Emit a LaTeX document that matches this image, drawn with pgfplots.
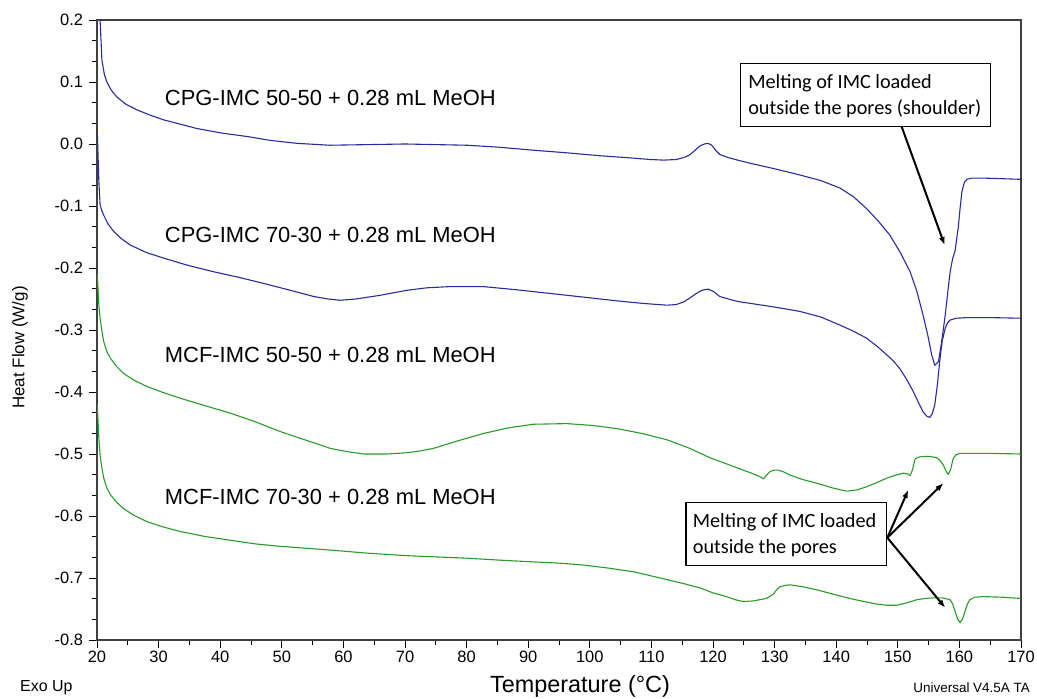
\documentclass[border=0pt]{standalone}
\usepackage{fontspec}
\setmainfont{Liberation Sans}
\newfontfamily\calibri{Carlito}
\usepackage{pgfplots}
\pgfplotsset{compat=1.18}
\usetikzlibrary{arrows.meta}
\definecolor{cblue}{RGB}{42,42,158}
\definecolor{cgreen}{RGB}{40,155,40}
\begin{document}
\begin{tikzpicture}
\path[use as bounding box] (-97bp,-59bp) rectangle (940bp,640bp);
\begin{axis}[
 at={(0,0)}, anchor=south west,
 scale only axis, width=924bp, height=620bp,
 xmin=20, xmax=170, ymin=-0.8, ymax=0.2,
 xtick={20,30,40,50,60,70,80,90,100,110,120,130,140,150,160,170},
 ytick={-0.8,-0.7,-0.6,-0.5,-0.4,-0.3,-0.2,-0.1,0,0.1,0.2},
 minor x tick num=1, minor y tick num=2,
 tick align=outside, xtick pos=bottom, ytick pos=left,
 major tick length=8bp, minor tick length=5bp,
 tick style={black, line width=0.8bp},
 axis line style={draw=black!75, line width=1.2bp},
 ticklabel style={font=\fontsize{16.5}{19}\selectfont},
 /pgf/number format/assume math mode=true,
 y tick label style={xshift=-2.5bp, /pgf/number format/.cd, fixed, fixed zerofill, precision=1, /tikz/.cd},
 every axis plot/.append style={line width=1.1bp, line join=round},
]
% CPG-IMC 50-50
\addplot[cblue] coordinates {
(20.2,0.26)(20.5,0.20)(20.8,0.135)(21.2,0.112)(21.6,0.100)(22.3,0.087)(23.2,0.076)
(24.7,0.064)(26.5,0.055)(28.5,0.047)(30.8,0.039)(33.5,0.032)(36.2,0.025)(40,0.018)
(44.4,0.012)(48,0.006)(52.5,0.001)(57.8,-0.002)(64,-0.001)(70,0.000)(75,-0.001)
(80,-0.002)(85,-0.005)(90.8,-0.010)(96,-0.014)(101.7,-0.019)(106,-0.022)(109.8,-0.025)
(112,-0.026)(114.1,-0.025)(115.5,-0.021)(116.3,-0.017)(117.2,-0.009)(117.9,-0.003)
(118.6,0.000)(119.2,0.001)(119.8,-0.002)(120.5,-0.011)(121.1,-0.017)(122.5,-0.022)
(124,-0.026)(126,-0.031)(130,-0.040)(134.1,-0.050)(137.5,-0.059)(140.6,-0.071)
(142.8,-0.085)(144.9,-0.104)(146.8,-0.124)(148.7,-0.147)(150.4,-0.175)(152,-0.206)
(153.1,-0.238)(154.1,-0.276)(154.9,-0.31)(155.5,-0.340)(156.0,-0.357)(156.6,-0.351)
(157.1,-0.32)(157.7,-0.276)(158.1,-0.24)(158.5,-0.206)(158.9,-0.185)(159.3,-0.172)
(159.6,-0.150)(159.8,-0.136)(160.1,-0.105)(160.4,-0.077)(160.8,-0.062)(161.2,-0.057)
(162,-0.055)(163.9,-0.055)(167,-0.056)(170,-0.057)
};
% CPG-IMC 70-30
\addplot[cblue] coordinates {
(20.05,0.02)(20.3,-0.06)(20.5,-0.098)(20.8,-0.108)(21.1,-0.115)(21.8,-0.129)(22.7,-0.141)
(24,-0.153)(25.4,-0.163)(28,-0.175)(30.8,-0.184)(34.5,-0.195)(38.9,-0.206)(43,-0.215)
(47.1,-0.225)(51,-0.235)(55.2,-0.246)(57.5,-0.250)(59.5,-0.252)(62,-0.250)(66,-0.244)
(70.3,-0.236)(73.5,-0.232)(77.3,-0.230)(82.7,-0.230)(88,-0.235)(93.5,-0.241)(99,-0.247)
(104.4,-0.253)(108.5,-0.257)(112.5,-0.260)(114,-0.259)(115.2,-0.255)(116.3,-0.248)
(117.3,-0.241)(118.2,-0.236)(119.2,-0.234)(120.1,-0.238)(121.1,-0.246)(122.5,-0.250)
(124,-0.254)(126,-0.257)(130,-0.263)(134.1,-0.270)(137.5,-0.279)(140.6,-0.292)
(142.8,-0.302)(144.9,-0.313)(146.6,-0.326)(148.2,-0.340)(149.3,-0.350)(150.3,-0.362)
(151.4,-0.379)(152.5,-0.399)(153.4,-0.418)(154.1,-0.432)(154.7,-0.439)(155.2,-0.441)
(155.6,-0.435)(156.0,-0.421)(156.4,-0.39)(156.8,-0.351)(157.2,-0.318)(157.7,-0.297)
(158.1,-0.288)(158.5,-0.284)(159.5,-0.281)(161.2,-0.280)(165,-0.280)(170,-0.281)
};
% MCF-IMC 50-50
\addplot[cgreen] coordinates {
(20.05,-0.21)(20.3,-0.26)(20.5,-0.281)(20.8,-0.302)(21.1,-0.319)(21.6,-0.335)(22.2,-0.346)
(23.2,-0.359)(24.3,-0.370)(26,-0.381)(28.1,-0.391)(30.5,-0.400)(33.5,-0.410)(37.5,-0.422)
(41.6,-0.434)(45.7,-0.448)(49.8,-0.464)(54,-0.478)(57.9,-0.491)(60.5,-0.496)(63.3,-0.500)
(67.1,-0.500)(70.3,-0.498)(72.5,-0.495)(74.6,-0.491)(78.5,-0.479)(82.7,-0.467)(86.7,-0.458)
(90.8,-0.452)(96.3,-0.451)(100.5,-0.454)(104.4,-0.459)(108.5,-0.467)(112.5,-0.477)
(116,-0.490)(119.5,-0.506)(123.3,-0.520)(126,-0.530)(127.5,-0.536)(128.2,-0.540)
(128.7,-0.534)(129.3,-0.528)(130.0,-0.526)(130.6,-0.526)(131.5,-0.529)(132.5,-0.534)
(134.5,-0.541)(136.8,-0.547)(139.5,-0.555)(141.7,-0.560)(143.3,-0.558)(144.9,-0.553)
(146.6,-0.546)(148.2,-0.539)(149.7,-0.534)(150.9,-0.531)(151.6,-0.532)(152.0,-0.535)
(152.4,-0.525)(152.8,-0.508)(153.4,-0.505)(154.1,-0.504)(155.3,-0.504)(156.3,-0.506)
(156.9,-0.511)(157.4,-0.518)(157.8,-0.527)(158.2,-0.533)(158.6,-0.524)(159.0,-0.507)
(159.5,-0.501)(160.1,-0.499)(165,-0.499)(170,-0.500)
};
% MCF-IMC 70-30
\addplot[cgreen] coordinates {
(20.05,-0.42)(20.3,-0.475)(20.5,-0.502)(20.8,-0.523)(21.1,-0.539)(21.6,-0.555)(22.2,-0.566)
(23.2,-0.578)(24.3,-0.588)(26,-0.599)(28.1,-0.609)(30.5,-0.617)(33.5,-0.625)(37.5,-0.633)
(41.6,-0.639)(45.7,-0.645)(49.8,-0.649)(54,-0.652)(57.9,-0.655)(64,-0.660)(70.3,-0.664)
(75,-0.666)(80,-0.668)(85,-0.671)(90.8,-0.674)(95,-0.676)(98.9,-0.679)(103,-0.684)
(107.1,-0.690)(111,-0.699)(115.2,-0.709)(117.9,-0.716)(120,-0.724)(122.2,-0.730)
(123.6,-0.735)(124.9,-0.738)(126.5,-0.737)(128.7,-0.733)(129.8,-0.726)(130.4,-0.718)
(130.9,-0.714)(131.7,-0.712)(132.5,-0.711)(134.5,-0.714)(136.8,-0.719)(139.5,-0.726)
(142.2,-0.733)(144.5,-0.738)(146.6,-0.742)(148.2,-0.744)(149.8,-0.744)(151.5,-0.740)
(153.1,-0.735)(154.5,-0.733)(155.8,-0.732)(157.2,-0.732)(158.5,-0.735)(158.9,-0.742)
(159.3,-0.754)(159.7,-0.766)(160.1,-0.772)(160.5,-0.766)(160.9,-0.754)(161.3,-0.742)
(161.7,-0.735)(162.5,-0.731)(163.9,-0.730)(167,-0.731)(170,-0.733)
};
% curve labels
\node[anchor=west, inner sep=0pt, font=\fontsize{22}{26}\selectfont] at (axis cs:31.0,0.075) {CPG-IMC 50-50 + 0.28 mL MeOH};
\node[anchor=west, inner sep=0pt, font=\fontsize{22}{26}\selectfont] at (axis cs:31.0,-0.147) {CPG-IMC 70-30 + 0.28 mL MeOH};
\node[anchor=west, inner sep=0pt, font=\fontsize{22}{26}\selectfont] at (axis cs:31.0,-0.341) {MCF-IMC 50-50 + 0.28 mL MeOH};
\node[anchor=west, inner sep=0pt, font=\fontsize{22}{26}\selectfont] at (axis cs:31.0,-0.569) {MCF-IMC 70-30 + 0.28 mL MeOH};
% top annotation
\draw[black, line width=1.2bp, fill=white] (axis cs:124.5,0.130) rectangle (axis cs:165.1,0.0286);
\node[anchor=west, inner sep=0pt, align=left, font=\calibri\fontsize{20.3}{26}\selectfont] at (axis cs:125.7,0.077) {Melting of IMC loaded\\outside the pores (shoulder)};
\draw[black, line width=2bp, -{Latex[length=8bp,width=6bp]}] (axis cs:150.6,0.0286) -- (axis cs:157.6,-0.163);
% bottom annotation
\draw[black, line width=1.2bp, fill=white] (axis cs:115.6,-0.578) rectangle (axis cs:148.2,-0.680);
\node[anchor=west, inner sep=0pt, align=left, font=\calibri\fontsize{20.3}{26}\selectfont] at (axis cs:116.7,-0.631) {Melting of IMC loaded\\outside the pores};
\draw[black, line width=2bp, -{Latex[length=8bp,width=6bp]}] (axis cs:148.3,-0.635) -- (axis cs:151.7,-0.558);
\draw[black, line width=2bp, -{Latex[length=8bp,width=6bp]}] (axis cs:148.3,-0.635) -- (axis cs:157.4,-0.547);
\draw[black, line width=2bp, -{Latex[length=8bp,width=6bp]}] (axis cs:148.3,-0.635) -- (axis cs:157.7,-0.748);
\end{axis}
\node[rotate=90, font=\fontsize{17}{20}\selectfont] at (-77bp,292.5bp) {Heat Flow (W/g)};
\node[inner sep=0pt, font=\fontsize{23.5}{26}\selectfont] at (483bp,-46bp) {Temperature (°C)};
\node[anchor=west, inner sep=0pt, font=\fontsize{16}{18}\selectfont] at (-77bp,-48bp) {Exo Up};
\node[anchor=east, inner sep=0pt, font=\fontsize{13.5}{16}\selectfont] at (933bp,-48bp) {Universal V4.5A TA};
\end{tikzpicture}
\end{document}
